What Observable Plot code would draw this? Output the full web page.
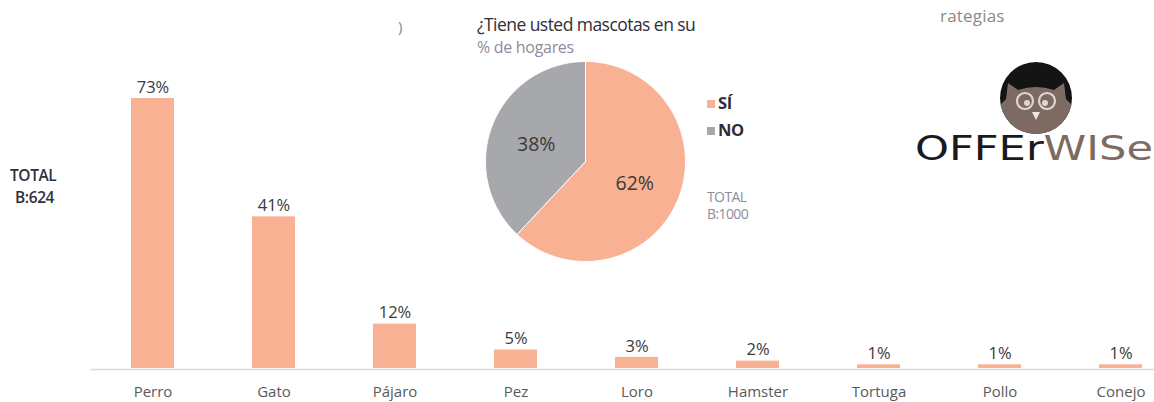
<!DOCTYPE html>
<html>
<head>
<meta charset="utf-8">
<script src="https://cdn.jsdelivr.net/npm/d3@7"></script>
<script src="https://cdn.jsdelivr.net/npm/@observablehq/plot@0.6"></script>
<style>
  html, body { margin: 0; padding: 0; background: #fff; }
  #wrap { position: relative; width: 1154px; height: 402px; overflow: hidden; font-family: "Open Sans", sans-serif; }
  #wrap > * { position: absolute; }
  .t { white-space: nowrap; }
</style>
</head>
<body>
<div id="wrap"></div>
<script>
const categories = ["Perro", "Gato", "Pájaro", "Pez", "Loro", "Hamster", "Tortuga", "Pollo", "Conejo"];
const values = [73, 41, 12, 5, 3, 2, 1, 1, 1];
const pieLabels = ["SÍ", "NO"];
const pieValues = [62, 38];
const barTotal = ["TOTAL", "B:624"];
const pieTotal = ["TOTAL", "B:1000"];
const pieTitle = "¿Tiene usted mascotas en su";
const pieSubtitle = "% de hogares";

const salmon = "#f9b193";
const grey = "#a7a8ac";
const wrap = document.getElementById("wrap");

const bars = categories.map((c, i) => ({cat: c, v: values[i]}));

const barChart = Plot.plot({
  width: 1154,
  height: 402,
  marginLeft: 90,
  marginRight: 0,
  marginTop: 0,
  marginBottom: 0,
  style: {fontFamily: "Open Sans, sans-serif", background: "transparent", overflow: "visible"},
  x: {domain: categories, range: [90, 1154], paddingInner: 0.645, paddingOuter: 0.205, align: 0.77, axis: null},
  y: {domain: [0, 73], range: [368, 98], axis: null},
  marks: [
    Plot.barY(bars, {x: "cat", y: "v", fill: salmon}),
    Plot.ruleY([0], {y: 0, dy: 1, stroke: "#dcdcdc", strokeWidth: 1.6}),
    Plot.text(bars, {x: "cat", y: "v", text: d => d.v + "%", dy: -11, fontSize: 16.5, fill: "#3a3a3a", letterSpacing: "-0.3px"}),
    Plot.text(bars, {x: "cat", y: 0, text: "cat", dy: 24, fontSize: 15, fill: "#5a5a5a"})
  ]
});
barChart.style.left = "0px";
barChart.style.top = "0px";
wrap.appendChild(barChart);

// Pie slices computed from the data through d3.pie
const arcs = d3.pie().sort(null).value(d => d.v)(pieLabels.map((k, i) => ({k, v: pieValues[i]})));
const slicePts = [];
for (const a of arcs) {
  const k = a.data.k;
  slicePts.push({k, x: 0, y: 0});
  const n = Math.max(2, Math.ceil((a.endAngle - a.startAngle) / (Math.PI / 180)));
  for (let j = 0; j <= n; j++) {
    const t = a.startAngle + (a.endAngle - a.startAngle) * j / n;
    slicePts.push({k, x: Math.sin(t), y: Math.cos(t)});
  }
  slicePts.push({k, x: 0, y: 0});
}
const pieText = arcs.map(a => {
  const m = (a.startAngle + a.endAngle) / 2;
  return {k: a.data.k, v: a.data.v, x: 0.53 * Math.sin(m), y: 0.53 * Math.cos(m)};
});

const pie = Plot.plot({
  width: 202,
  height: 202,
  margin: 1,
  style: {fontFamily: "Open Sans, sans-serif", background: "transparent", overflow: "visible"},
  x: {domain: [-1, 1], axis: null},
  y: {domain: [-1, 1], axis: null},
  color: {domain: pieLabels, range: [salmon, grey]},
  marks: [
    Plot.line(slicePts, {x: "x", y: "y", z: "k", fill: "k", stroke: "#fff", strokeWidth: 1, curve: "linear"}),
    Plot.text(pieText, {x: "x", y: "y", text: d => d.v + "%", dy: 3, fontSize: 19.5, fill: "#3a3a3a", letterSpacing: "-0.4px"})
  ]
});
pie.style.left = "484px";
pie.style.top = "60px";
wrap.appendChild(pie);

function addText(txt, css) {
  const d = document.createElement("div");
  d.className = "t";
  d.textContent = txt;
  Object.assign(d.style, css);
  wrap.appendChild(d);
  return d;
}

addText(pieTitle, {left: "477px", top: "15px", fontSize: "17.5px", color: "#2e2e38", lineHeight: "19px", letterSpacing: "-0.55px"});
addText(pieSubtitle, {left: "477px", top: "39px", fontSize: "16px", color: "#8c8c9c", lineHeight: "16px", letterSpacing: "-0.3px"});

addText(")", {left: "398px", top: "16px", fontSize: "15px", color: "#7c8aa0", lineHeight: "20px"});
addText("rategias", {left: "940px", top: "5px", fontSize: "17px", color: "#8a8a8a", lineHeight: "22px", letterSpacing: "0.2px"});

// Bar chart base label
addText(barTotal[0], {left: "10px", top: "165px", fontSize: "15.5px", fontWeight: "600", color: "#2e3040", lineHeight: "20px", letterSpacing: "-0.4px"});
addText(barTotal[1], {left: "15px", top: "187px", fontSize: "15.5px", fontWeight: "600", color: "#2e3040", lineHeight: "20px", letterSpacing: "-0.4px"});

// Pie legend
pieLabels.forEach((k, i) => {
  const sq = document.createElement("div");
  Object.assign(sq.style, {left: "707px", top: (100 + i * 27) + "px", width: "8px", height: "8px", background: i === 0 ? salmon : grey});
  wrap.appendChild(sq);
  addText(k, {left: "718px", top: (92 + i * 27) + "px", fontSize: "16.5px", fontWeight: "700", color: "#2e2e38", lineHeight: "22px", letterSpacing: "-0.3px"});
});
addText(pieTotal[0], {left: "707px", top: "190px", fontSize: "14px", color: "#8c8c9c", lineHeight: "14px", letterSpacing: "-0.6px"});
addText(pieTotal[1], {left: "707px", top: "207px", fontSize: "14px", color: "#8c8c9c", lineHeight: "14px", letterSpacing: "-0.6px"});

// Logo
const logo = document.createElementNS("http://www.w3.org/2000/svg", "svg");
logo.setAttribute("width", "260");
logo.setAttribute("height", "120");
logo.style.left = "900px";
logo.style.top = "55px";
logo.innerHTML = `
  <defs><clipPath id="cc"><circle cx="136" cy="43" r="36"/></clipPath></defs>
  <circle cx="136" cy="43" r="36" fill="#141414"/>
  <g clip-path="url(#cc)">
    <path d="M100,90 L100,50 L106,44 L108,28 L118,35 Q136,29 154,35 L164,28 L166,44 L172,50 L172,90 Z" fill="#7d6b63"/>
  </g>
  <circle cx="125" cy="46" r="8" fill="none" stroke="#ddd6d1" stroke-width="2.2"/>
  <circle cx="147" cy="46" r="8" fill="none" stroke="#ddd6d1" stroke-width="2.2"/>
  <circle cx="127" cy="48" r="3" fill="#ddd6d1"/>
  <circle cx="145" cy="48" r="3" fill="#ddd6d1"/>
  <path d="M132,57 L140,57 L136,65 Z" fill="#ece6e2"/>
  <text x="15" y="105" font-family="DejaVu Sans" font-weight="400" font-size="34" textLength="238" lengthAdjust="spacingAndGlyphs"><tspan fill="#1a1a1a">OFFEr</tspan><tspan fill="#7d6b63">WISe</tspan></text>
`;
wrap.appendChild(logo);
</script>
</body>
</html>
